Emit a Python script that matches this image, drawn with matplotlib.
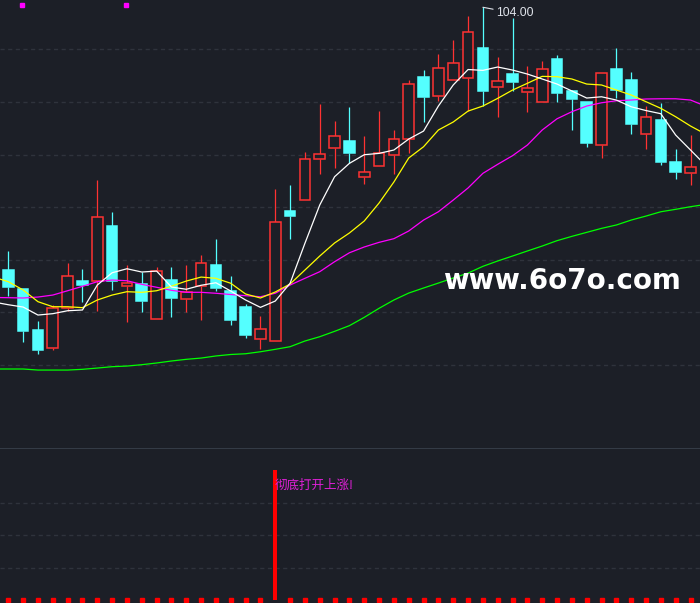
import numpy as np
import matplotlib
matplotlib.use('Agg')
import matplotlib.pyplot as plt
from matplotlib.patches import Rectangle

# candle data (price units)
opens = [79.02, 77.21, 73.32, 71.61, 75.41, 77.97, 77.97, 83.20, 77.50, 77.69, 74.36, 78.07, 76.26, 77.50, 79.50, 77.02,
         75.50, 72.46, 72.27, 84.63, 85.67, 89.57, 90.62, 91.28, 87.86, 88.91, 89.95, 91.47, 97.37, 95.56, 97.08, 97.27,
         100.12, 96.42, 97.65, 95.94, 94.99, 99.08, 96.04, 94.99, 90.90, 98.13, 97.08, 91.95, 93.28, 89.29, 88.24]
highs = [80.83, 77.21, 74.17, 75.69, 79.69, 79.12, 87.58, 84.53, 79.50, 78.83, 79.31, 79.31, 79.50, 80.45, 81.97, 78.45,
         75.79, 74.65, 86.72, 87.10, 90.24, 94.80, 93.18, 94.51, 91.76, 94.13, 92.33, 97.08, 98.03, 99.55, 100.88, 103.17,
         104.00, 99.27, 102.98, 98.41, 98.89, 99.46, 96.13, 94.99, 97.75, 100.12, 97.84, 94.61, 94.90, 90.52, 91.85]
lows = [76.55, 72.18, 71.03, 71.42, 75.12, 75.98, 75.12, 77.12, 74.08, 75.03, 74.36, 74.55, 75.03, 74.27, 77.02, 73.79,
        72.56, 71.51, 72.27, 81.97, 85.67, 88.15, 88.72, 89.19, 87.20, 88.91, 88.15, 90.14, 93.09, 95.09, 97.08, 94.13,
        94.61, 93.56, 96.04, 94.04, 94.99, 94.99, 92.33, 90.71, 89.67, 95.37, 91.95, 90.52, 89.00, 87.67, 87.10]
closes = [77.40, 73.22, 71.42, 75.41, 78.45, 77.59, 84.06, 77.97, 77.78, 76.07, 78.92, 76.36, 76.93, 79.69, 77.31, 74.27,
          72.84, 73.41, 83.58, 84.15, 89.57, 90.05, 91.76, 90.14, 88.34, 90.14, 91.47, 96.70, 95.47, 98.22, 98.70, 101.64,
          96.04, 96.99, 96.89, 96.32, 98.13, 95.85, 95.28, 91.09, 97.75, 96.13, 92.90, 93.56, 89.29, 88.34, 88.81]

# moving averages, from one bar before the window to one bar after
ma_idx = list(range(-1, 48))
ma5 = [75.98, 75.72, 75.50, 74.74, 74.87, 75.15, 75.22, 77.59, 78.76, 79.14, 78.83, 78.92, 77.40, 77.19, 77.57, 77.81,
       77.02, 76.17, 75.47, 76.07, 77.76, 81.56, 85.20, 87.89, 89.16, 89.98, 90.11, 90.43, 91.47, 92.23, 94.61, 96.61,
       98.08, 98.00, 98.32, 98.03, 97.65, 97.18, 96.70, 96.04, 95.37, 95.49, 95.18, 94.54, 94.18, 93.88, 91.85, 90.43,
       89.00]
ma10 = [78.35, 77.91, 77.12, 76.01, 75.53, 75.53, 75.44, 76.17, 76.64, 76.96, 76.90, 77.05, 77.48, 77.97, 78.35, 78.23,
        77.76, 76.74, 76.36, 76.93, 77.69, 79.02, 80.35, 81.59, 82.54, 83.68, 85.39, 87.39, 89.67, 90.74, 92.33, 93.09,
        94.13, 94.61, 95.34, 96.13, 96.77, 97.43, 97.40, 97.18, 96.70, 96.61, 96.13, 95.66, 95.02, 94.39, 93.59, 92.71,
        91.95]
ma20 = [76.41, 76.39, 76.36, 76.45, 76.64, 77.05, 77.47, 77.91, 78.07, 78.00, 77.66, 77.38, 77.09, 76.90, 76.90, 76.81,
        76.69, 76.58, 76.48, 76.81, 77.59, 78.23, 78.86, 79.81, 80.66, 81.21, 81.65, 82.00, 82.73, 83.77, 84.56, 85.67,
        86.82, 88.21, 89.07, 89.89, 90.90, 92.33, 93.40, 94.07, 94.61, 94.92, 95.11, 95.18, 95.28, 95.30, 95.30, 95.18,
        94.61]
ma60 = [69.61, 69.61, 69.61, 69.51, 69.51, 69.51, 69.58, 69.70, 69.83, 69.89, 70.02, 70.18, 70.37, 70.53, 70.65, 70.85,
        70.99, 71.06, 71.25, 71.48, 71.73, 72.27, 72.68, 73.19, 73.73, 74.52, 75.38, 76.17, 76.83, 77.31, 77.78, 78.26,
        78.73, 79.37, 79.88, 80.35, 80.83, 81.30, 81.81, 82.22, 82.60, 82.98, 83.30, 83.77, 84.15, 84.56, 84.79, 85.04,
        85.25]

# lower indicator
signal = [0, 0, 0, 0, 0, 0, 0, 0, 0, 0, 0, 0, 0, 0, 0, 0, 0, 0, 4, 0, 0, 0, 0, 0,
          0, 0, 0, 0, 0, 0, 0, 0, 0, 0, 0, 0, 0, 0, 0, 0, 0, 0, 0, 0, 0, 0, 0]
signal_text = '彻底打开上涨!'
high_label = '104.00'
watermark = 'www.6o7o.com'

bg = '#1c1f27'
red = '#ff3232'
cyan = '#54ffff'
grid_c = '#2f333c'

fig = plt.figure(figsize=(7.0, 6.03), dpi=100, facecolor=bg)
ax = fig.add_axes([0, 155 / 603, 1, 448 / 603], facecolor=bg)
ax2 = fig.add_axes([0, 0, 1, 155 / 603], facecolor=bg)

n = len(opens)
x = np.arange(n)
xlim = (-0.56, 46.64)

# main panel
w = 0.72
for i in range(n):
    o, h, l, c = opens[i], highs[i], lows[i], closes[i]
    up = c >= o
    col = red if up else cyan
    lo, hi = min(o, c), max(o, c)
    ax.plot([i, i], [l, lo], color=col, lw=0.9, zorder=2, solid_capstyle='butt')
    ax.plot([i, i], [hi, h], color=col, lw=0.9, zorder=2, solid_capstyle='butt')
    ax.add_patch(Rectangle((i - w / 2, lo), w, max(hi - lo, 0.08),
                           facecolor=bg if up else cyan, edgecolor=col, lw=1.1, zorder=3))

ax.plot(ma_idx, ma60, color='#00ff00', lw=0.9, zorder=4)
ax.plot(ma_idx, ma20, color='#ff00ff', lw=0.9, zorder=4)
ax.plot(ma_idx, ma10, color='#ffff00', lw=0.9, zorder=4)
ax.plot(ma_idx, ma5, color='#ffffff', lw=0.9, zorder=5)

top = int(np.argmax(highs))
ax.annotate(high_label, xy=(top, highs[top]), xytext=(13, -6), textcoords='offset pixels',
            color='#dfe3ea', fontsize=8.8, va='center', ha='left', family='Liberation Sans',
            arrowprops=dict(arrowstyle='-', color='#dfe3ea', lw=0.8, shrinkA=0, shrinkB=0))

ax.set_xlim(*xlim)
ax.set_ylim(62.10, 104.69)
ax.set_yticks([70, 75, 80, 85, 90, 95, 100])
ax.grid(axis='y', color=grid_c, lw=1, linestyle=(0, (3, 2.5)))
ax.tick_params(left=False, bottom=False, labelleft=False, labelbottom=False)
for s in ax.spines.values():
    s.set_visible(False)

ax.text(562 / 700, 1 - 281 / 448, watermark, transform=ax.transAxes, color='white',
        fontsize=20, fontweight='bold', ha='center', va='center', zorder=10)

# lower panel
sig_on = [i for i in range(n) if signal[i] > 0]
sig_off = [i for i in range(n) if signal[i] == 0]
ax2.bar(sig_on, [signal[i] for i in sig_on], width=0.27, color='#ff0000', zorder=3)
ax2.plot(sig_off, [signal[i] for i in sig_off], 's', color='#ff0000', ms=2.3, zorder=3, clip_on=False)
for i in sig_on:
    ax2.text(i - 0.05, signal[i] - 0.48, signal_text, color='#e020d8', fontsize=9,
             ha='left', va='center', family=['Noto Sans CJK SC', 'DejaVu Sans'], zorder=4)

ax2.set_xlim(*xlim)
ax2.set_ylim(-0.092, 4.677)
ax2.set_yticks([1, 2, 3])
ax2.grid(axis='y', color=grid_c, lw=1, linestyle=(0, (3, 2.5)))
ax2.tick_params(left=False, bottom=False, labelleft=False, labelbottom=False)
for s in ax2.spines.values():
    s.set_visible(False)
ax2.axhline(4.677, color='#3a414d', lw=1.2, zorder=5)

# title markers at the top edge
fig.lines.append(plt.Line2D([22 / 700, 126 / 700], [1 - 5 / 603, 1 - 5 / 603], transform=fig.transFigure,
                            marker='s', ms=2.3, color='#ff00ff', linestyle='none'))

fig.savefig('out.png', dpi=100, facecolor=bg)
